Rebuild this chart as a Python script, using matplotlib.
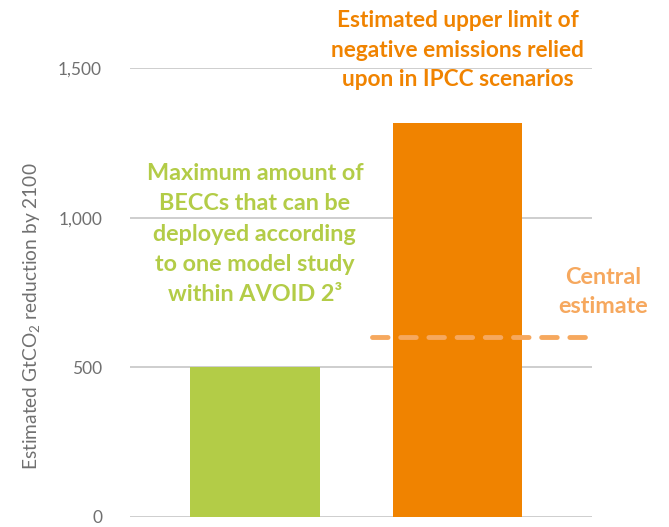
import matplotlib.pyplot as plt

# bar data, GtCO2 reduction by 2100
categories = ['BECCs (AVOID 2)', 'IPCC scenarios']
values = [500, 1315]
central_estimate = 600
yticks = [0, 500, 1000, 1500]
ytick_labels = ['0', '500', '1,000', '1,500']

green = '#b3cc47'
orange = '#f08300'
light_orange = '#f6a85e'
grey = '#c6c6c6'

plt.rcParams['font.family'] = ['Lato', 'DejaVu Sans']

fig = plt.figure(figsize=(6.69, 5.27), dpi=100)
ax = fig.add_axes([0.194, 0.019, 0.691, 0.852])

x = [0, 1]
ax.bar(x, values, width=0.64, color=[green, orange], zorder=2)

for t in yticks:
    ax.axhline(t, color=grey, lw=1.2, zorder=1)

ax.plot([0.578, 1.664], [central_estimate, central_estimate], color=light_orange,
        lw=3.5, dashes=(3.2, 2.6), solid_capstyle='round', dash_capstyle='round',
        zorder=3, clip_on=False)

ax.set_xlim(-0.617, 1.664)
ax.set_ylim(0, 1500)
ax.set_xticks([])
ax.set_yticks(yticks)
ax.set_yticklabels(ytick_labels, color='#707070', fontsize=12.5)
ax.tick_params(axis='y', length=0, pad=20)
for s in ax.spines.values():
    s.set_visible(False)

ax.set_ylabel('Estimated GtCO$_\\mathregular{2}$ reduction by 2100', color='#707070',
              fontsize=13.8)
ax.yaxis.set_label_coords(-0.188, 0.448)

ax.text(0, 945, 'Maximum amount of\nBECCs that can be\ndeployed according\nto one model study\nwithin AVOID 2\u00b3',
        ha='center', va='center', color=green, fontsize=16.8, fontweight='bold',
        linespacing=1.55)
ax.text(1, 1560, 'Estimated upper limit of\nnegative emissions relied\nupon in IPCC scenarios',
        ha='center', va='center', color=orange, fontsize=16.3, fontweight='bold',
        linespacing=1.5, clip_on=False)
ax.text(1.72, 752, 'Central\nestimate', ha='center', va='center', color=light_orange,
        fontsize=16.8, fontweight='bold', linespacing=1.5, clip_on=False)

fig.savefig('out.png', dpi=100)
